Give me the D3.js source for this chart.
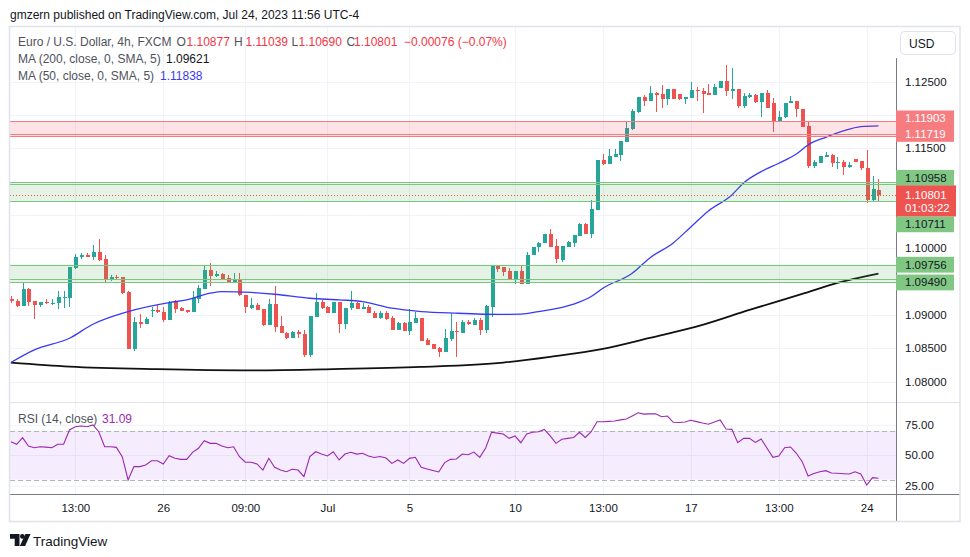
<!DOCTYPE html>
<html><head><meta charset="utf-8">
<script src="https://cdn.jsdelivr.net/npm/d3@7"></script>
<style>
html,body{margin:0;padding:0;background:#fff;}
svg{display:block;font-family:"Liberation Sans",Arial,sans-serif;}
</style></head>
<body><svg id="c" width="970" height="557"></svg>
<script>
// ---------------- DATA ----------------
const opens=[1.09236,1.09216,1.09136,1.09391,1.09216,1.09156,1.09201,1.09181,1.09176,1.09266,
1.09261,1.09711,1.09866,1.09906,1.09876,1.09946,1.09841,1.09541,1.09571,1.09571,
1.09346,1.08496,1.08896,1.08871,1.09056,1.09076,1.09046,1.08926,1.09206,1.09106,
1.09076,1.09051,1.09246,1.09396,1.09671,1.09591,1.09621,1.09561,1.09486,1.09536,
1.09306,1.09111,1.09151,1.09087,1.08851,1.09166,1.08836,1.08736,1.08661,1.08751,
1.08716,1.08401,1.08976,1.09201,1.09126,1.09026,1.09201,1.08866,1.09101,1.09186,
1.09096,1.09126,1.09036,1.08951,1.09036,1.08951,1.08776,1.08876,1.08766,1.08886,
1.08951,1.08626,1.08566,1.08511,1.08451,1.08636,1.08766,1.08736,1.08901,1.08851,
1.08926,1.08776,1.09126,1.09736,1.09721,1.09661,1.09526,1.09661,1.09466,1.09901,
1.10016,1.10076,1.10211,1.10036,1.09826,1.10026,1.10086,1.10191,1.10366,1.10216,
1.10581,1.11326,1.11266,1.11376,1.11401,1.11601,1.11791,1.12051,1.12276,1.12216,
1.12326,1.12316,1.12246,1.12391,1.12316,1.12236,1.12261,1.12376,1.12361,1.12331,
1.12306,1.12411,1.12511,1.12366,1.12391,1.12141,1.12276,1.12301,1.12201,1.12326,
1.12186,1.11911,1.11966,1.12176,1.12211,1.12086,1.11836,1.11236,1.11286,1.11376,
1.11401,1.11286,1.11301,1.11226,1.11341,1.11311,1.11201,1.10726,1.10877];
const highs=[1.09286,1.09236,1.09486,1.09406,1.09216,1.09196,1.09236,1.09236,1.09361,1.09361,
1.09726,1.09916,1.09926,1.09936,1.10056,1.10136,1.09901,1.09601,1.09596,1.09571,
1.09361,1.08966,1.09016,1.08966,1.09116,1.09151,1.09126,1.09216,1.09226,1.09121,
1.09076,1.09366,1.09451,1.09751,1.09776,1.09656,1.09631,1.09596,1.09626,1.09626,
1.09306,1.09251,1.09186,1.09087,1.09236,1.09436,1.08986,1.08751,1.08761,1.08776,
1.08776,1.08986,1.09336,1.09226,1.09136,1.09201,1.09201,1.09101,1.09361,1.09201,
1.09186,1.09151,1.09066,1.09066,1.09066,1.08986,1.08901,1.08901,1.09087,1.09051,
1.08951,1.08651,1.08566,1.08526,1.08786,1.09026,1.08901,1.08926,1.08926,1.08951,
1.08951,1.09151,1.09736,1.09751,1.09721,1.09701,1.09661,1.09751,1.09941,1.10016,
1.10101,1.10211,1.10286,1.10136,1.10036,1.10116,1.10201,1.10386,1.10386,1.10726,
1.11326,1.11416,1.11486,1.11486,1.11611,1.11901,1.12091,1.12276,1.12301,1.12441,
1.12341,1.12451,1.12391,1.12391,1.12316,1.12276,1.12491,1.12426,1.12401,1.12461,
1.12461,1.12511,1.12751,1.12711,1.12391,1.12326,1.12336,1.12311,1.12331,1.12376,
1.12261,1.12061,1.12186,1.12286,1.12211,1.12086,1.11901,1.11326,1.11386,1.11441,
1.11416,1.11376,1.11326,1.11301,1.11341,1.11311,1.11476,1.11091,1.11039];
const lows=[1.09181,1.09126,1.09136,1.09136,1.08946,1.09126,1.09166,1.09146,1.09086,1.09111,
1.09126,1.09696,1.09836,1.09876,1.09826,1.09816,1.09501,1.09516,1.09536,1.09311,
1.08496,1.08466,1.08806,1.08871,1.08966,1.09026,1.08901,1.08926,1.09026,1.09061,
1.09036,1.09051,1.09186,1.09396,1.09441,1.09576,1.09546,1.09476,1.09476,1.09281,
1.09026,1.09087,1.09076,1.08836,1.08851,1.08751,1.08726,1.08636,1.08651,1.08651,
1.08376,1.08376,1.08976,1.09087,1.09026,1.09026,1.08726,1.08791,1.09076,1.09096,
1.09096,1.09026,1.08951,1.08936,1.08926,1.08776,1.08776,1.08766,1.08701,1.08876,
1.08616,1.08551,1.08491,1.08366,1.08451,1.08616,1.08366,1.08736,1.08851,1.08851,
1.08696,1.08726,1.08976,1.09651,1.09586,1.09526,1.09466,1.09466,1.09466,1.09901,
1.09951,1.10076,1.10026,1.09786,1.09801,1.10016,1.10026,1.10191,1.10216,1.10161,
1.10576,1.11251,1.11266,1.11376,1.11316,1.11591,1.11776,1.12026,1.12141,1.12216,
1.12051,1.12111,1.12151,1.12246,1.12226,1.12161,1.12261,1.12211,1.12036,1.12306,
1.12306,1.12411,1.12291,1.12237,1.12101,1.12101,1.12251,1.12176,1.11976,1.12101,
1.11751,1.11911,1.11951,1.12176,1.11976,1.11826,1.11201,1.11201,1.11286,1.11366,
1.11216,1.11186,1.11101,1.11211,1.11291,1.11176,1.10676,1.10701,1.10690];
const closes=[1.09206,1.09136,1.09391,1.09201,1.09156,1.09196,1.09176,1.09186,1.09271,1.09276,
1.09726,1.09866,1.09906,1.09876,1.09946,1.09826,1.09541,1.09566,1.09556,1.09336,
1.08496,1.08896,1.08871,1.08941,1.09076,1.09041,1.08926,1.09196,1.09096,1.09066,
1.09051,1.09251,1.09406,1.09671,1.09591,1.09621,1.09546,1.09486,1.09536,1.09296,
1.09116,1.09151,1.09076,1.08851,1.09166,1.08826,1.08726,1.08661,1.08741,1.08711,
1.08401,1.08986,1.09201,1.09101,1.09026,1.09201,1.08866,1.09101,1.09186,1.09096,
1.09126,1.09026,1.08951,1.09036,1.08941,1.08776,1.08876,1.08766,1.08901,1.08951,
1.08616,1.08551,1.08491,1.08451,1.08651,1.08766,1.08746,1.08901,1.08866,1.08926,
1.08776,1.09136,1.09736,1.09686,1.09651,1.09526,1.09661,1.09466,1.09901,1.10016,
1.10076,1.10211,1.10026,1.09836,1.10036,1.10101,1.10201,1.10366,1.10216,1.10591,
1.11326,1.11266,1.11386,1.11416,1.11611,1.11811,1.12061,1.12276,1.12216,1.12326,
1.12306,1.12246,1.12391,1.12246,1.12236,1.12276,1.12376,1.12356,1.12321,1.12306,
1.12421,1.12511,1.12366,1.12396,1.12141,1.12286,1.12301,1.12201,1.12326,1.12101,
1.11911,1.11976,1.12186,1.12211,1.12086,1.11826,1.11236,1.11301,1.11386,1.11401,
1.11286,1.11301,1.11226,1.11251,1.11301,1.11201,1.10726,1.10891,1.10801];
const rsiValues=[61.2,59.1,64.5,57.7,56.3,57.1,56.8,56.3,59.1,59.1,
70.9,73.6,74.2,73.6,75,69.5,57.1,57.1,56.6,48.9,
29.7,40.7,40.7,42.1,45.6,45.5,42.9,49.7,47.6,46.7,
46.7,52.5,55.8,62.1,59.9,59.9,57.7,56.3,57.1,48.9,
44.3,44.3,42.9,37.9,47.6,40.2,37.9,36.5,38.5,37.9,
32.4,48.9,53,51.1,49.5,53,46.2,51.1,52.5,51.0,
51.7,49.5,48.2,49.0,47.8,43.4,46.2,43.4,47.5,48.4,
40.2,38.8,37.5,36.3,44,46.7,47,51.1,50.5,52.7,
48.4,56,69,68.3,67.6,64,66,60.4,67.6,69,
69.5,71.4,66,59.9,63.2,64,64.7,69,64.7,69.5,
77.7,77.7,78,78.3,79.2,79.9,82.5,85.1,84,84.2,
84.3,81.8,82.4,77.2,77,77.5,78.9,77.8,76.6,75.6,
77.5,79.1,71.7,71.4,60.4,64,64,60.7,63.5,55.8,
48.4,49.5,56.3,56.9,51.7,44.8,33,35,36.5,37.4,
35.5,35.2,34.9,34.6,36.5,34.6,25.6,31.6,31.09];
// moving averages read at knots: bar index and value
const ma50Idx=[0,4,10,14,20,27,30,34,36,41,45,51,56,60,65,70,76,84,87,90,96,99,101,106,109,113,116,119,123,125,128,131,134,136,139,142,145,148];
const ma50Val=[1.08286,1.08476,1.08651,1.08861,1.09051,1.09186,1.09226,1.09326,1.09351,1.09338,1.09311,1.09251,1.09226,1.09201,1.09101,1.09051,1.09026,1.09008,1.09011,1.09051,1.09161,1.09276,1.09401,1.09626,1.09856,1.10081,1.10321,1.10561,1.10801,1.10981,1.11151,1.11276,1.11416,1.11551,1.11666,1.11761,1.11826,1.11838];
const ma200Idx=[0,10,25,41,55,70,84,92,101,109,118,126,135,141,148];
const ma200Val=[1.08286,1.08226,1.08187,1.08169,1.08187,1.08221,1.08286,1.08371,1.08491,1.08656,1.08851,1.09076,1.09316,1.09481,1.09621];
// time axis
const tickIdx=[11,26,40,54,68,86,101,116,131,146];
const tickLab=['13:00','26','09:00','Jul','5','10','13:00','17','13:00','24'];
const priceTicks=[1.125,1.115,1.10,1.09,1.085,1.08];
const rsiTicks=[75,50,25];
// zones drawn on chart
const zoneLevels=[[1.11903,1.11719,1.11680],[1.10990,1.10958,1.10711],[1.09756,1.09541,1.09490]];
const zoneKind=['red','green','green'];
const labelValues=[1.11903,1.11719,1.10958,1.10711,1.09756,1.09490];
const labelKind=['red','red','green','green','green','green'];
const lastPrice=1.10801, countdown='01:03:22';
const legendOHLC=['1.10877','1.11039','1.10690','1.10801','\u22120.00076 (\u22120.07%)'];
const ma200Last='1.09621', ma50Last='1.11838', rsiLast='31.09';

// ---------------- DRAW ----------------
const svg=d3.select('#c');
const PL=10,PR=896,PT=27,PB=402,RB=494;
const x=d3.scaleLinear().domain([0,148]).range([10.85,10.85+148*5.862]);
const y=d3.scaleLinear().domain([1.08,1.125]).range([381.6,81.7]);
const yr=d3.scaleLinear().domain([25,75]).range([485.7,425]);
const UP='#26a69a',DN='#ef5350',GRID='#f0f3fa',TXT='#131722',LEG='#4f525c';

const defs=svg.append('defs');
defs.append('clipPath').attr('id','cm').append('rect').attr('x',PL).attr('y',PT).attr('width',PR-PL).attr('height',PB-PT);
defs.append('clipPath').attr('id','cr').append('rect').attr('x',PL).attr('y',PB).attr('width',PR-PL).attr('height',RB-PB);

svg.append('rect').attr('width',970).attr('height',557).attr('fill','#fff');

// grid
const grid=svg.append('g').attr('shape-rendering','crispEdges');
grid.selectAll('line.v').data(tickIdx).join('line')
  .attr('x1',d=>Math.round(x(d))+0.5).attr('x2',d=>Math.round(x(d))+0.5)
  .attr('y1',PT).attr('y2',RB).attr('stroke',GRID);
const gridPrices=d3.range(0,10).map(k=>1.08+k*0.005);
grid.selectAll('line.h').data(gridPrices).join('line')
  .attr('x1',PL).attr('x2',PR).attr('y1',d=>Math.round(y(d))+0.5).attr('y2',d=>Math.round(y(d))+0.5)
  .attr('stroke',GRID);
grid.selectAll('line.r').data(rsiTicks).join('line')
  .attr('x1',PL).attr('x2',PR).attr('y1',d=>Math.round(yr(d))+0.5).attr('y2',d=>Math.round(yr(d))+0.5)
  .attr('stroke',GRID);

// main pane
const main=svg.append('g').attr('clip-path','url(#cm)');
// candles
const bars=d3.range(opens.length).map(i=>({i,o:opens[i],h:highs[i],l:lows[i],c:closes[i]}));
const cg=main.append('g').attr('shape-rendering','crispEdges');
cg.selectAll('rect.w').data(bars).join('rect')
  .attr('x',d=>Math.round(x(d.i))).attr('width',1)
  .attr('y',d=>y(d.h)).attr('height',d=>Math.max(1,y(d.l)-y(d.h)))
  .attr('fill',d=>d.c>=d.o?UP:DN);
cg.selectAll('rect.b').data(bars).join('rect')
  .attr('x',d=>Math.round(x(d.i))-1.5).attr('width',4)
  .attr('y',d=>y(Math.max(d.o,d.c))).attr('height',d=>Math.max(1,Math.abs(y(d.o)-y(d.c))))
  .attr('fill',d=>d.c>=d.o?UP:DN);

// moving averages
const lineGen=d3.line().x(d=>x(d[0])).y(d=>y(d[1])).curve(d3.curveMonotoneX);
main.append('path').datum(ma200Idx.map((d,k)=>[d,ma200Val[k]])).attr('d',lineGen)
  .attr('fill','none').attr('stroke','#111').attr('stroke-width',1.8);
main.append('path').datum(ma50Idx.map((d,k)=>[d,ma50Val[k]])).attr('d',lineGen)
  .attr('fill','none').attr('stroke','#3a3af4').attr('stroke-width',1.3);

// zones
zoneLevels.forEach((lv,k)=>{
  const col=zoneKind[k]==='red'?{f:'rgba(242,54,69,0.14)',s:'#f77c80'}:{f:'rgba(76,175,80,0.15)',s:'#7dc480'};
  const top=d3.max(lv),bot=d3.min(lv);
  main.append('rect').attr('x',PL).attr('width',PR-PL).attr('y',y(top)).attr('height',y(bot)-y(top)).attr('fill',col.f);
  main.selectAll(null).data(lv).join('line').attr('x1',PL).attr('x2',PR)
    .attr('y1',d=>Math.round(y(d))+0.5).attr('y2',d=>Math.round(y(d))+0.5)
    .attr('stroke',col.s).attr('stroke-width',1.2);
});
// last price dotted line
main.append('line').attr('x1',PL).attr('x2',PR).attr('y1',Math.round(y(lastPrice))+0.5).attr('y2',Math.round(y(lastPrice))+0.5)
  .attr('stroke',DN).attr('stroke-dasharray','1,2');

// RSI pane
const rp=svg.append('g').attr('clip-path','url(#cr)');
rp.append('rect').attr('x',PL).attr('width',PR-PL).attr('y',yr(70)).attr('height',yr(30)-yr(70)).attr('fill','rgba(160,80,240,0.11)');
rp.selectAll('line.d').data([70,30]).join('line').attr('x1',PL).attr('x2',PR)
  .attr('y1',d=>Math.round(yr(d))+0.5).attr('y2',d=>Math.round(yr(d))+0.5)
  .attr('stroke','#b2b5be').attr('stroke-dasharray','5,3');
rp.append('path').datum(rsiValues.map((v,i)=>[i,v]))
  .attr('d',d3.line().x(d=>x(d[0])).y(d=>yr(d[1])))
  .attr('fill','none').attr('stroke','#9c27b0').attr('stroke-width',1.1);

// frame and separators
const fr=svg.append('g').attr('shape-rendering','crispEdges');
fr.append('line').attr('x1',PL).attr('x2',960).attr('y1',PB+0.5).attr('y2',PB+0.5).attr('stroke','#e0e3eb');
fr.append('line').attr('x1',PL).attr('x2',960).attr('y1',RB+0.5).attr('y2',RB+0.5).attr('stroke','#787b86');
fr.append('line').attr('x1',PR+0.5).attr('x2',PR+0.5).attr('y1',58).attr('y2',522).attr('stroke','#787b86');
svg.append('rect').attr('x',9.5).attr('y',26.5).attr('width',950.5).attr('height',495).attr('fill','none').attr('stroke','#e0e3eb').attr('stroke-width',1.5);

// price axis labels
const ax=svg.append('g').attr('font-size','11.5px');
ax.selectAll('text.p').data(priceTicks).join('text').attr('x',905).attr('y',d=>y(d)).attr('dy','0.35em')
  .attr('fill',TXT).text(d=>d.toFixed(5));
ax.selectAll('text.r').data(rsiTicks).join('text').attr('x',905).attr('y',d=>yr(d)).attr('dy','0.35em')
  .attr('fill',TXT).text(d=>d.toFixed(2));
// time axis labels
ax.selectAll('text.t').data(tickIdx).join('text').attr('x',d=>x(d)+0.5).attr('y',512)
  .attr('text-anchor','middle').attr('fill',TXT).text((d,k)=>tickLab[k]);

// level labels with collision layout around the last-price label
const LH=15.5, cy=y(lastPrice), curTop=cy-9.5, curBot=cy+21.5;
const labs=labelValues.map((v,k)=>({v,k,c:y(v)}));
let lim=curTop;
labs.filter(d=>d.c<cy).sort((a,b)=>b.c-a.c).forEach(d=>{ if(d.c+LH/2>lim) d.c=lim-LH/2; lim=d.c-LH/2; });
lim=curBot;
labs.filter(d=>d.c>=cy).sort((a,b)=>a.c-b.c).forEach(d=>{ if(d.c-LH/2<lim) d.c=lim+LH/2; lim=d.c+LH/2; });
const lb=svg.append('g').attr('font-size','11.5px');
lb.selectAll('rect.l').data(labs).join('rect').attr('x',896).attr('width',58)
  .attr('y',d=>d.c-LH/2).attr('height',LH+0.3)
  .attr('fill',d=>labelKind[d.k]==='red'?'#f77c80':'#81c784');
lb.selectAll('text.l').data(labs).join('text').attr('x',905).attr('y',d=>d.c).attr('dy','0.35em')
  .attr('fill',d=>labelKind[d.k]==='red'?'#fff':TXT).text(d=>d.v.toFixed(5));
lb.append('rect').attr('x',896).attr('width',60).attr('y',curTop).attr('height',curBot-curTop).attr('fill',DN);
lb.append('text').attr('x',905).attr('y',cy).attr('dy','0.35em').attr('fill','#fff').text(lastPrice.toFixed(5));
lb.append('text').attr('x',905).attr('y',cy+13.5).attr('dy','0.35em').attr('fill','#fff').text(countdown);

// USD button
svg.append('rect').attr('x',900.5).attr('y',31.5).attr('width',55).attr('height',23).attr('rx',4)
  .attr('fill','#fff').attr('stroke','#e0e3eb');
svg.append('text').attr('x',909).attr('y',47.5).attr('font-size','12px').attr('fill',TXT).text('USD');

// header & legends
svg.append('text').attr('x',10).attr('y',18.5).attr('font-size','12px').attr('fill',TXT)
  .text('gmzern published on TradingView.com, Jul 24, 2023 11:56 UTC-4');
const leg=svg.append('g').attr('font-size','12px');
const l1=[[18,'Euro / U.S. Dollar, 4h, FXCM',LEG],[176.5,'O',LEG],[186.5,legendOHLC[0],'#f23645'],
  [234,'H',LEG],[245.5,legendOHLC[1],'#f23645'],[291.5,'L',LEG],[298.5,legendOHLC[2],'#f23645'],
  [346.5,'C',LEG],[354,legendOHLC[3],'#f23645'],[404,legendOHLC[4],'#f23645']];
l1.forEach(t=>leg.append('text').attr('x',t[0]).attr('y',45.5).attr('fill',t[2]).text(t[1]));
leg.append('text').attr('x',18).attr('y',62.5).attr('fill',LEG).text('MA (200, close, 0, SMA, 5)');
leg.append('text').attr('x',166).attr('y',62.5).attr('fill',TXT).text(ma200Last);
leg.append('text').attr('x',18).attr('y',79.5).attr('fill',LEG).text('MA (50, close, 0, SMA, 5)');
leg.append('text').attr('x',160).attr('y',79.5).attr('fill','#3a3af4').text(ma50Last);
leg.append('text').attr('x',18).attr('y',423).attr('fill',LEG).text('RSI (14, close)');
leg.append('text').attr('x',102).attr('y',423).attr('fill','#9c27b0').text(rsiLast);

// TradingView logo
const lg=svg.append('g').attr('fill',TXT);
lg.append('path').attr('d','M10,534 h9.5 v12 h-4.8 v-7.3 h-4.7 z');
lg.append('circle').attr('cx',22.3).attr('cy',536.4).attr('r',2.3);
lg.append('path').attr('d','M25.3,534 h5.2 l-5.4,12 h-5.2 z');
svg.append('text').attr('x',33).attr('y',545.5).attr('font-size','13.5px').attr('fill',TXT).text('TradingView');
</script>
</body></html>
